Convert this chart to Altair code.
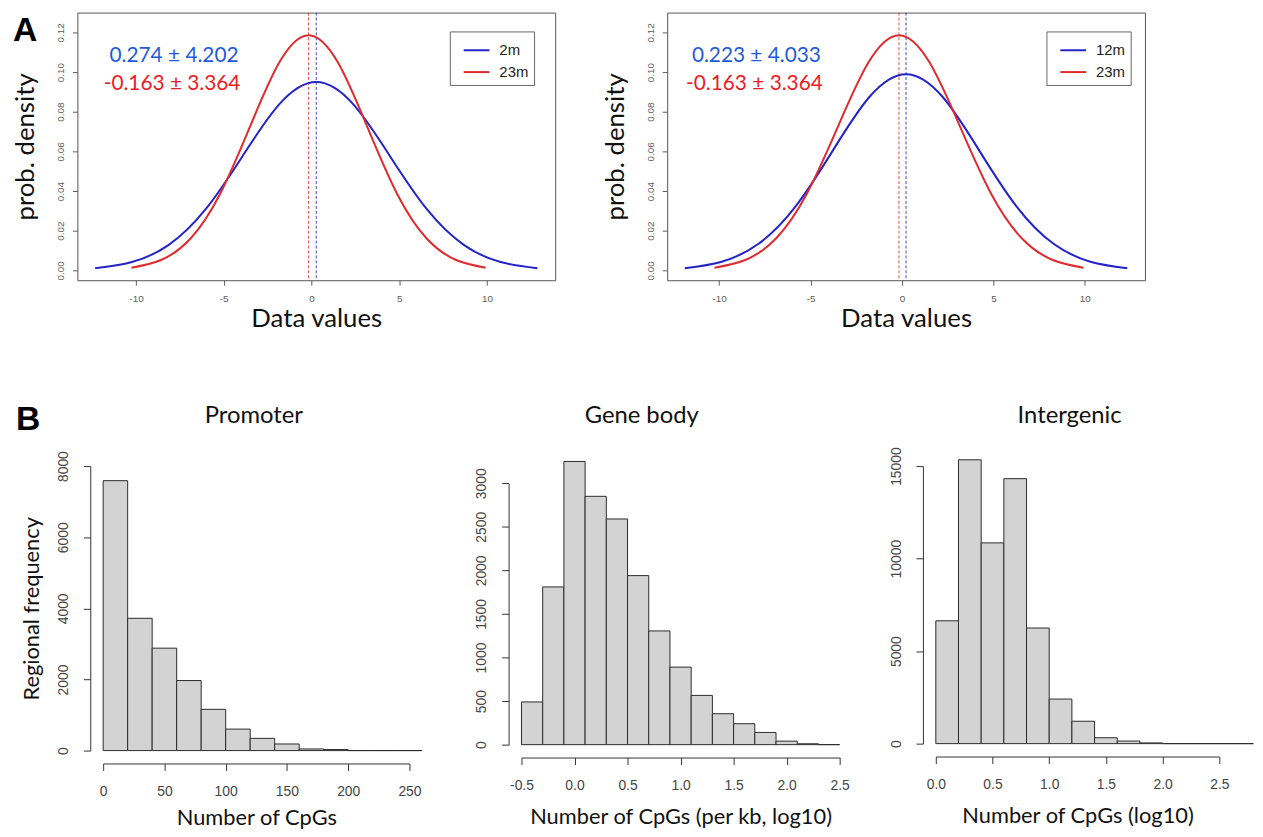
import altair as alt
import pandas as pd

# ---------------- Panel A: fitted density curves ----------------
x_2m = [-12.332, -10.231, -8.130, -6.029, -3.928, -1.827, 0.274, 2.375, 4.476, 6.577, 8.678, 10.779, 12.880]
y_2m = [0.00105, 0.00417, 0.01285, 0.03082, 0.05758, 0.08379, 0.09494, 0.08379, 0.05758, 0.03082, 0.01285, 0.00417, 0.00105]
x_23m = [-10.255, -8.573, -6.891, -5.209, -3.527, -1.845, -0.163, 1.519, 3.201, 4.883, 6.565, 8.247, 9.929]
y_23m = [0.00132, 0.00521, 0.01605, 0.03850, 0.07193, 0.10466, 0.11859, 0.10466, 0.07193, 0.03850, 0.01605, 0.00521, 0.00132]
x_12m = [-11.876, -9.860, -7.843, -5.827, -3.810, -1.794, 0.223, 2.240, 4.256, 6.273, 8.289, 10.306, 12.322]
y_12m = [0.00110, 0.00435, 0.01339, 0.03211, 0.06000, 0.08730, 0.09892, 0.08730, 0.06000, 0.03211, 0.01339, 0.00435, 0.00110]

mean_2m, sd_2m = 0.274, 4.202
mean_12m, sd_12m = 0.223, 4.033
mean_23m, sd_23m = -0.163, 3.364

a_x_ticks = [-10, -5, 0, 5, 10]
a_y_ticks = [0.00, 0.02, 0.04, 0.06, 0.08, 0.10, 0.12]

# ---------------- Panel B: histograms ----------------
prom_edges = [0, 20, 40, 60, 80, 100, 120, 140, 160, 180, 200, 220, 240, 260]
prom_counts = [7590, 3720, 2880, 1970, 1160, 604, 344, 186, 46, 28, 0, 0, 0]
prom_x_ticks = [0, 50, 100, 150, 200, 250]
prom_y_ticks = [0, 2000, 4000, 6000, 8000]

gene_edges = [-0.5, -0.3, -0.1, 0.1, 0.3, 0.5, 0.7, 0.9, 1.1, 1.3, 1.5, 1.7, 1.9, 2.1, 2.3, 2.5]
gene_counts = [490, 1810, 3250, 2850, 2590, 1940, 1305, 890, 565, 355, 240, 140, 40, 10, 0]
gene_x_ticks = [-0.5, 0.0, 0.5, 1.0, 1.5, 2.0, 2.5]
gene_y_ticks = [0, 500, 1000, 1500, 2000, 2500, 3000]

inter_edges = [0.0, 0.2, 0.4, 0.6, 0.8, 1.0, 1.2, 1.4, 1.6, 1.8, 2.0, 2.2, 2.4, 2.6, 2.8]
inter_counts = [6640, 15340, 10850, 14320, 6250, 2410, 1210, 320, 140, 40, 0, 0, 0, 0]
inter_x_ticks = [0.0, 0.5, 1.0, 1.5, 2.0, 2.5]
inter_y_ticks = [0, 5000, 10000, 15000]

# ---------------- styling ----------------
BLUE = "#2323C8"
RED = "#E02A2E"
TXT_BLUE = "#1F5BD8"
TXT_RED = "#EC1C24"
SANS = "Liberation Sans"
TITLE_FONT = "Lato"
AX = "#5c5c5c"


def density_panel(name_a, xa, ya, ma, sa, name_b, xb, yb, mb, sb, xdom,
                  legend_x, ann_dx_a, ann_dx_b, letter=None):
    df = pd.DataFrame({"x": xa + xb, "y": ya + yb,
                       "series": [name_a] * len(xa) + [name_b] * len(xb)})
    cscale = alt.Scale(domain=[name_a, name_b], range=[BLUE, RED])
    xsc = alt.Scale(domain=xdom, nice=False, zero=False)
    ysc = alt.Scale(domain=[-0.005, 0.13], nice=False, zero=False)
    xax = alt.Axis(values=a_x_ticks, labelExpr="datum.value + ''", grid=False, domain=False,
                   tickSize=5, tickColor=AX, labelColor=AX, labelFont=SANS, labelFontSize=10,
                   labelPadding=8, labelFlush=False, labelOverlap=False,
                   title="Data values", titleFont=TITLE_FONT, titleFontSize=26,
                   titleFontWeight="normal", titleColor="#111111", titlePadding=3)
    yax = alt.Axis(values=a_y_ticks, format=".2f", labelAngle=270, labelAlign="center",
                   labelBaseline="bottom", grid=False, domain=False, tickSize=5,
                   tickColor=AX, labelColor=AX, labelFont=SANS, labelFontSize=10,
                   labelPadding=7, labelOverlap=False, labelFlush=False,
                   title="prob. density", titleFont=TITLE_FONT, titleFontSize=26,
                   titleFontWeight="normal", titleColor="#111111", titlePadding=17)
    rule_a = alt.Chart(pd.DataFrame({"m": [ma]})).mark_rule(
        color=BLUE, strokeDash=[3, 2], strokeWidth=1, opacity=0.85
    ).encode(x=alt.X("m:Q", scale=xsc, axis=xax))
    rule_b = alt.Chart(pd.DataFrame({"m": [mb]})).mark_rule(
        color=RED, strokeDash=[3, 2], strokeWidth=1, opacity=0.85
    ).encode(x=alt.X("m:Q", scale=xsc, axis=xax))
    lines = alt.Chart(df).mark_line(strokeWidth=2, interpolate="natural").encode(
        x=alt.X("x:Q", scale=xsc, axis=xax),
        y=alt.Y("y:Q", scale=ysc, axis=yax),
        color=alt.Color("series:N", scale=cscale, legend=alt.Legend(
            title=None, orient="none", legendX=legend_x, legendY=19, direction="vertical",
            strokeColor="#666666", fillColor="#ffffff", padding=5, cornerRadius=0,
            symbolType="stroke", symbolSize=676, symbolStrokeWidth=2, symbolOffset=8,
            labelFont=SANS, labelFontSize=15, labelColor="#222222", labelOffset=9,
            rowPadding=-8)),
    )
    ann_a = alt.Chart(pd.DataFrame({"t": [f"{ma:.3f} \u00b1 {sa:.3f}"]})).mark_text(
        font=TITLE_FONT, fontSize=21, color=TXT_BLUE, align="center", baseline="alphabetic"
    ).encode(text="t:N", x=alt.value(ann_dx_a), y=alt.value(50))
    ann_b = alt.Chart(pd.DataFrame({"t": [f"{mb:.3f} \u00b1 {sb:.3f}"]})).mark_text(
        font=TITLE_FONT, fontSize=21, color=TXT_RED, align="center", baseline="alphabetic"
    ).encode(text="t:N", x=alt.value(ann_dx_b), y=alt.value(78.4))
    layers = [rule_a, rule_b, lines, ann_a, ann_b]
    if letter:
        layers.append(alt.Chart(pd.DataFrame({"t": [letter]})).mark_text(
            font=SANS, fontSize=34, fontWeight="bold", color="#000000",
            align="left", baseline="alphabetic"
        ).encode(text="t:N", x=alt.value(-65), y=alt.value(28.2)))
    return alt.layer(*layers).properties(
        width=482, height=270,
        view=alt.ViewBackground(stroke="#555555", strokeWidth=1),
    )


def hist_panel(edges, counts, title, title_dx, xtitle, xdom, xvals, ydom, yvals,
               width, height, xfmt=None, xexpr=None, xrange_px=None, yrange_px=None,
               yoffset=13, xtitle_pad=10, ytitle=None, letter=None, letter_dx=-88):
    df = pd.DataFrame({"lo": edges[:-1], "hi": edges[1:], "n": counts})
    xs_kw = dict(domain=xdom, nice=False, zero=False)
    if xrange_px:
        xs_kw["range"] = xrange_px
    ys_kw = dict(domain=ydom, nice=False, zero=True)
    if yrange_px:
        ys_kw["range"] = yrange_px
    xax_kw = dict(values=xvals, grid=False, domainColor="#333333", tickColor="#333333",
                  tickSize=7, labelColor="#444444", labelFont=SANS, labelFontSize=14,
                  labelPadding=14, labelBaseline="top", labelFlush=False,
                  labelOverlap=False, offset=13,
                  title=xtitle, titleFont=TITLE_FONT, titleFontSize=22,
                  titleFontWeight="normal", titleColor="#111111", titlePadding=xtitle_pad)
    if xfmt:
        xax_kw["format"] = xfmt
    if xexpr:
        xax_kw["labelExpr"] = xexpr
    yax_kw = dict(values=yvals, format="d", grid=False, domainColor="#333333",
                  tickColor="#333333", tickSize=7, labelColor="#444444", labelFont=SANS,
                  labelFontSize=14, labelAngle=270, labelAlign="center",
                  labelBaseline="bottom", labelPadding=13, labelFlush=False,
                  labelOverlap=False, offset=yoffset,
                  title=ytitle if ytitle else "", titleFont=TITLE_FONT,
                  titleFontSize=22, titleFontWeight="normal", titleColor="#111111",
                  titlePadding=13)
    bars = alt.Chart(df).mark_bar(fill="#D3D3D3", stroke="#2a2a2a", strokeWidth=1).encode(
        x=alt.X("lo:Q", scale=alt.Scale(**xs_kw), axis=alt.Axis(**xax_kw)),
        x2="hi:Q",
        y=alt.Y("n:Q", scale=alt.Scale(**ys_kw), axis=alt.Axis(**yax_kw)),
        y2=alt.datum(0),
    )
    ttl = alt.Chart(pd.DataFrame({"t": [title]})).mark_text(
        font=TITLE_FONT, fontSize=24, color="#111111", align="center", baseline="alphabetic"
    ).encode(text="t:N", x=alt.value(title_dx), y=alt.value(-43))
    layers = [bars, ttl]
    if letter:
        layers.append(alt.Chart(pd.DataFrame({"t": [letter]})).mark_text(
            font=SANS, fontSize=34, fontWeight="bold", color="#000000",
            align="left", baseline="alphabetic"
        ).encode(text="t:N", x=alt.value(letter_dx), y=alt.value(-36.6)))
    return alt.layer(*layers).properties(width=width, height=height)


top_left = density_panel("2m", x_2m, y_2m, mean_2m, sd_2m,
                         "23m", x_23m, y_23m, mean_23m, sd_23m,
                         [-13.34, 13.89], 375.7, 97.5, 95.5, letter="A")
top_right = density_panel("12m", x_12m, y_12m, mean_12m, sd_12m,
                          "23m", x_23m, y_23m, mean_23m, sd_23m,
                          [-12.84, 13.29], 382.6, 90, 88)

promoter = hist_panel(prom_edges, prom_counts, "Promoter", 178, "Number of CpGs",
                      [0, 250], prom_x_ticks, [0, 8000], prom_y_ticks, 351, 287,
                      xfmt="d", xrange_px=[26, 335], yoffset=-13, xtitle_pad=10,
                      ytitle="Regional frequency", letter="B", letter_dx=-62)
genebody = hist_panel(gene_edges, gene_counts, "Gene body", 121.3,
                      "Number of CpGs (per kb, log10)", [-0.5, 2.5], gene_x_ticks,
                      [0, 3000], gene_y_ticks, 321, 281,
                      xexpr="replace(format(datum.value, '.1f'), '\u2212', '-')",
                      yrange_px=[281, 17.3], xtitle_pad=15)
intergenic = hist_panel(inter_edges, inter_counts, "Intergenic", 135,
                        "Number of CpGs (log10)", [0, 2.5], inter_x_ticks,
                        [0, 15000], inter_y_ticks, 286, 280, xfmt=".1f", xtitle_pad=15)

top = alt.hconcat(top_left, top_right, spacing=113, bounds="flush").resolve_scale(
    color="independent")
bottom = alt.hconcat(promoter, genebody, intergenic, spacing=97, bounds="flush")

chart = alt.vconcat(top, bottom, spacing=69.5, background="#ffffff",
                    padding={"left": 4, "top": 0, "right": 0, "bottom": 0}).configure_view(
    stroke="transparent")

chart.save("out.html", embed_options={"renderer": "svg", "actions": False})
